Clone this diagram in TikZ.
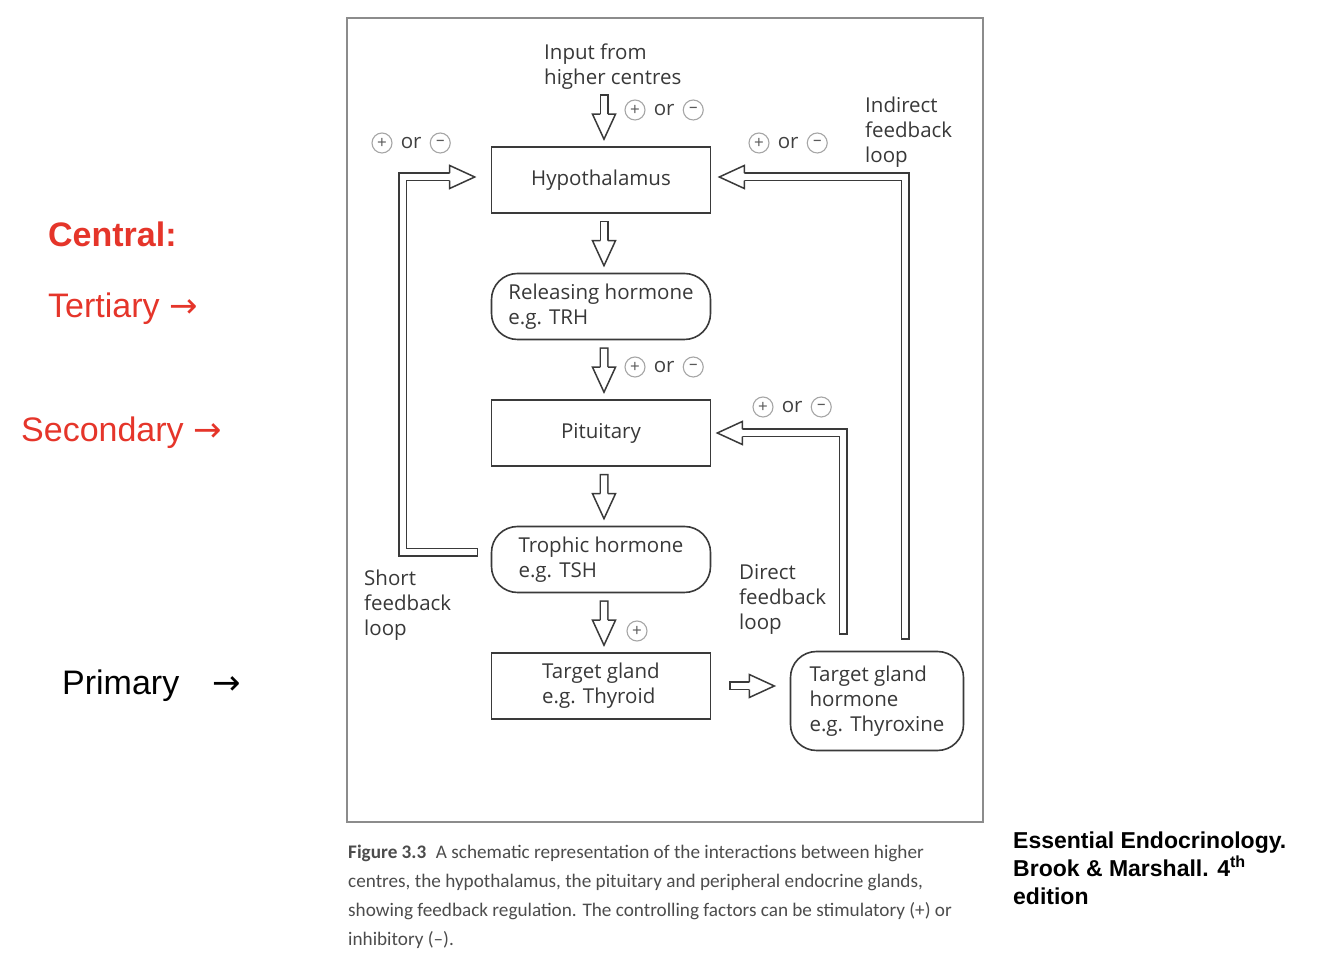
\documentclass[tikz,border=0pt]{standalone}
\usepackage{fontspec}
\setmainfont{Open Sans}
\newfontfamily\labelfont{Liberation Sans}
\newfontfamily\capfont{Carlito}
\newfontfamily\symfont{DejaVu Sans}
\usetikzlibrary{positioning}

\definecolor{ink}{HTML}{3A3A3A}
\definecolor{labelred}{HTML}{E5352A}
\definecolor{framegray}{HTML}{8C8C8C}

\tikzset{
	shaft/.style={draw=ink, line width=1.5pt, double=white, double distance=6pt, line cap=rect, line join=miter, shorten >=20pt},
	headline/.style={draw=ink, line width=1.5pt, line join=miter},
	organ/.style={draw=ink, line width=1.6pt, minimum width=219pt, minimum height=66pt, align=left},
	hormone/.style={organ, rounded corners=26pt},
	note/.style={anchor=north west, inner sep=0pt, align=left},
	sign/.style={circle, draw=black!35, line width=1.1pt, minimum size=20pt, inner sep=0pt, text=black!65, font=\fontsize{17}{17}\selectfont},
	ortext/.style={inner xsep=8pt, inner ysep=0pt, text=black!75},
	tierlabel/.style={anchor=base west, inner sep=0pt, text=labelred, font=\labelfont\fontsize{34}{40}\selectfont},
}

% open block arrow head, #1 = tip, #2 = direction
\newcommand\hollowhead[2]{%
	\fill[white, rotate around={#2:(#1)}] (#1) -- ++(-25,11.5) -- ++(0,-23) -- cycle;
	\draw[headline, rotate around={#2:(#1)}] (#1) ++(-25,3.75) -- ++(0,7.75) -- (#1) -- ++(-25,-11.5) -- ++(0,7.75);
}
% (+) or (-)
\newcommand\plusorminus[2]{%
	\node[sign] (#1p) at (#2) {+};
	\node[ortext, right=0pt of #1p] (#1o) {or};
	\node[sign, right=0pt of #1o] (#1m) {–};
}

\begin{document}
\begin{tikzpicture}[x=1pt, y=1pt, font=\fontsize{20.5}{25}\selectfont, text=black!78]
	\tikzstyle{edge from parent}=[draw=none]
	\useasboundingbox (0,0) rectangle (1334,964);
	\draw[framegray, line width=1.5pt] (347,142) rectangle (983,946);

	\node[organ] (hyp) at (601,784) {Hypothalamus} [level distance=126.5pt]
		child {node[hormone] (rel) {Releasing hormone\\e.g. TRH}
			child {node[organ] (pit) {Pituitary}
				child {node[hormone] (tro) {Trophic hormone\\e.g. TSH}
					child {node[organ] (tgl) {Target gland\\e.g. Thyroid}}
				}
			}
		};
	\node[hormone, minimum width=173pt, minimum height=99pt] (tgh) at (877,263) {Target gland\\hormone\\e.g. Thyroxine};

	\node[note] (inp) at (544,920) {Input from\\higher centres};
	\node[note] (ind) at (865,867) {Indirect\\feedback\\loop};
	\node[note] (sho) at (364,394) {Short\\feedback\\loop};
	\node[note] (dir) at (739,400) {Direct\\feedback\\loop};

	\plusorminus{pma}{635,854}
	\plusorminus{pmb}{382,821}
	\plusorminus{pmc}{759,821}
	\plusorminus{pmd}{635,597}
	\plusorminus{pme}{763,557}
	\node[sign] (pf) at (637,333) {+};

	% down the chain
	\coordinate (in0) at ([shift={(3,47.5)}]hyp.north);
	\coordinate (in1) at ([shift={(3,7)}]hyp.north);
	\draw[shaft] (in0) -- (in1);
	\hollowhead{in1}{-90}
	\foreach \a/\b in {hyp/rel, rel/pit, pit/tro, tro/tgl} {
		\coordinate (\a0) at ([shift={(3,-11.5)}]\a.south);
		\coordinate (\b1) at ([shift={(3,7)}]\b.north);
		\draw[shaft] (\a0) -- (\b1);
		\hollowhead{\b1}{-90}
	}
	\coordinate (tg0) at ([xshift=22.5pt]tgl.east);
	\coordinate (tg1) at ([xshift=63pt]tgl.east);
	\draw[shaft] (tg0) -- (tg1);
	\hollowhead{tg1}{0}

	% feedback loops
	\coordinate (sf0) at ([shift={(-17,7)}]tro.west);
	\coordinate (sf1) at ([shift={(-88,3)}]hyp.west);
	\coordinate (sf2) at ([shift={(-16,3)}]hyp.west);
	\draw[shaft] (sf0) -| (sf1) -- (sf2);
	\hollowhead{sf2}{0}
	\coordinate (if0) at ([shift={(28,15.5)}]tgh.north);
	\coordinate (if1) at ([shift={(8,3)}]hyp.east);
	\draw[shaft] (if0) |- (if1);
	\hollowhead{if1}{180}
	\coordinate (df0) at ([shift={(-34,20.5)}]tgh.north);
	\coordinate (df1) at ([xshift=6pt]pit.east);
	\draw[shaft] (df0) |- (df1);
	\hollowhead{df1}{180}

	% side labels
	\node[tierlabel] (cen) at (48,717) {\bfseries Central:};
	\node[tierlabel] (ter) at (48,646) {Tertiary {\symfont →}};
	\node[tierlabel] (sec) at (21,522) {Secondary {\symfont →}};
	\node[tierlabel, text=black] (pri) at (62,269) {Primary\hspace{33pt}{\symfont →}};

	\node[note, text=black, font=\labelfont\bfseries\fontsize{23}{28}\selectfont] (src) at (1013,132)
		{Essential Endocrinology.\\Brook \& Marshall. 4\textsuperscript{th}\\edition};
	\node[note, text=black!70, font=\capfont\fontsize{19.2}{29}\selectfont] (cap) at (348,119)
		{\textbf{Figure 3.3}\enspace A schematic representation of the interactions between higher\\
		centres, the hypothalamus, the pituitary and peripheral endocrine glands,\\
		showing feedback regulation. The controlling factors can be stimulatory (+) or\\
		inhibitory (–).};
\end{tikzpicture}
\end{document}
